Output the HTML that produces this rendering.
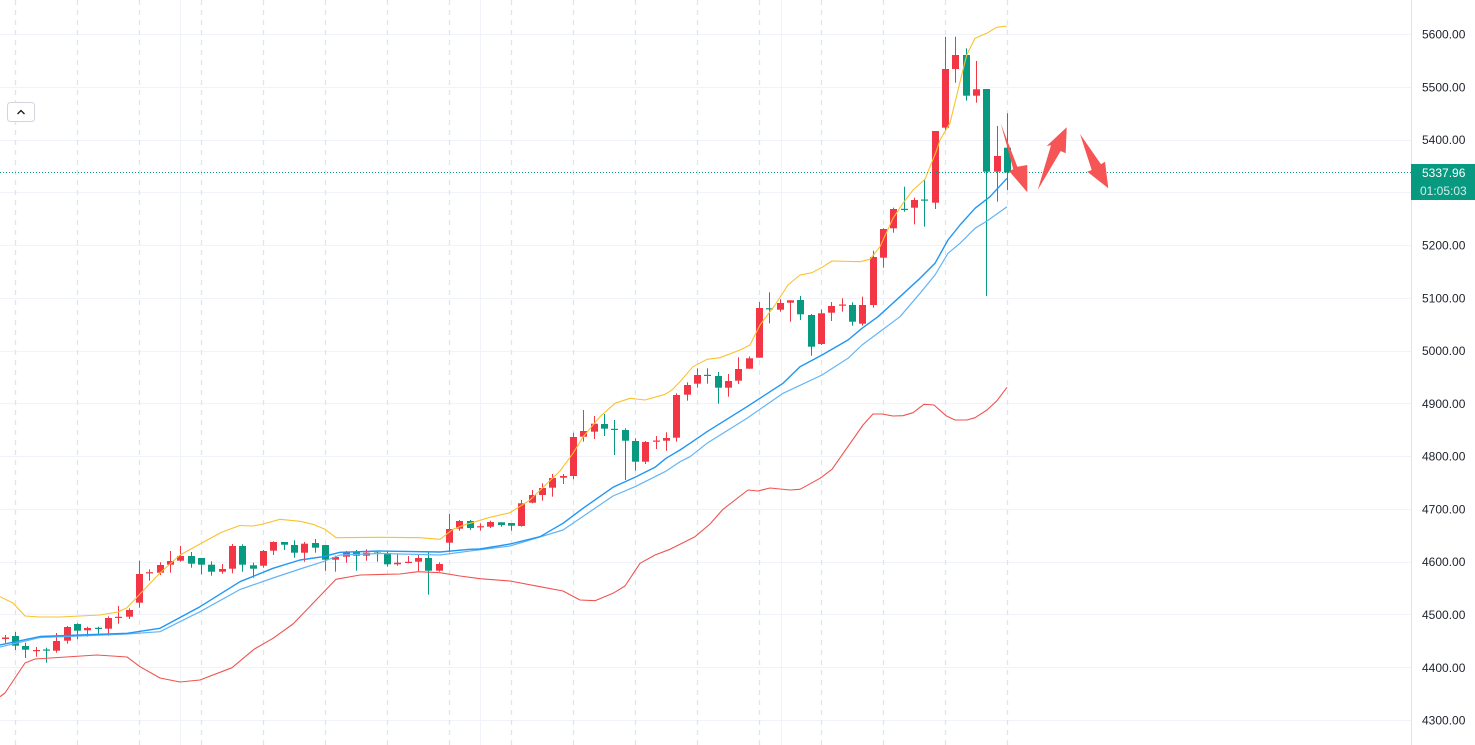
<!DOCTYPE html>
<html><head><meta charset="utf-8"><style>
html,body{margin:0;padding:0;background:#fff;}
svg{display:block;}
text{font-family:"Liberation Sans",sans-serif;font-size:12px;}
</style></head><body>
<svg width="1475" height="745" viewBox="0 0 1475 745" xmlns="http://www.w3.org/2000/svg">
<rect width="1475" height="745" fill="#fff"/>
<g stroke="#f0f3fa" stroke-width="1">
<line x1="0" y1="34.5" x2="1411" y2="34.5"/><line x1="0" y1="87.5" x2="1411" y2="87.5"/><line x1="0" y1="140.5" x2="1411" y2="140.5"/><line x1="0" y1="192.5" x2="1411" y2="192.5"/><line x1="0" y1="245.5" x2="1411" y2="245.5"/><line x1="0" y1="298.5" x2="1411" y2="298.5"/><line x1="0" y1="351.5" x2="1411" y2="351.5"/><line x1="0" y1="403.5" x2="1411" y2="403.5"/><line x1="0" y1="456.5" x2="1411" y2="456.5"/><line x1="0" y1="509.5" x2="1411" y2="509.5"/><line x1="0" y1="562.5" x2="1411" y2="562.5"/><line x1="0" y1="614.5" x2="1411" y2="614.5"/><line x1="0" y1="667.5" x2="1411" y2="667.5"/><line x1="0" y1="720.5" x2="1411" y2="720.5"/>
<line x1="180.5" y1="0" x2="180.5" y2="745"/><line x1="480.5" y1="0" x2="480.5" y2="745"/><line x1="781.5" y1="0" x2="781.5" y2="745"/>
</g>
<g stroke="#e2e4ea" stroke-width="1.3" stroke-dasharray="5 5">
<line x1="15.5" y1="0" x2="15.5" y2="745"/><line x1="77.5" y1="0" x2="77.5" y2="745"/><line x1="139.5" y1="0" x2="139.5" y2="745"/><line x1="201.5" y1="0" x2="201.5" y2="745"/><line x1="263.5" y1="0" x2="263.5" y2="745"/><line x1="325.5" y1="0" x2="325.5" y2="745"/><line x1="387.5" y1="0" x2="387.5" y2="745"/><line x1="449.5" y1="0" x2="449.5" y2="745"/><line x1="511.5" y1="0" x2="511.5" y2="745"/><line x1="573.5" y1="0" x2="573.5" y2="745"/><line x1="635.5" y1="0" x2="635.5" y2="745"/><line x1="697.5" y1="0" x2="697.5" y2="745"/><line x1="759.5" y1="0" x2="759.5" y2="745"/><line x1="821.5" y1="0" x2="821.5" y2="745"/><line x1="883.5" y1="0" x2="883.5" y2="745"/><line x1="945.5" y1="0" x2="945.5" y2="745"/><line x1="1007.5" y1="0" x2="1007.5" y2="745"/>
</g>
<g fill="#f23645">
<rect x="5" y="635" width="1" height="8"/><rect x="2" y="637.5" width="7" height="1.5"/>
<rect x="36" y="647" width="1" height="9.7"/><rect x="33" y="650" width="7" height="1.2"/>
<rect x="56" y="633" width="1" height="19.7"/><rect x="53" y="641" width="7" height="9.7"/>
<rect x="67" y="626" width="1" height="17.7"/><rect x="64" y="627" width="7" height="13.7"/>
<rect x="87" y="626.7" width="1" height="10"/><rect x="84" y="628" width="7" height="2.3"/>
<rect x="108" y="616.3" width="1" height="19.4"/><rect x="105" y="618" width="7" height="10.7"/>
<rect x="118" y="606" width="1" height="17.7"/><rect x="115" y="616.8" width="7" height="1.2"/>
<rect x="129" y="608.3" width="1" height="10.7"/><rect x="126" y="610" width="7" height="6.7"/>
<rect x="139" y="560.7" width="1" height="47"/><rect x="136" y="574" width="7" height="28.7"/>
<rect x="149" y="569.3" width="1" height="11.4"/><rect x="146" y="572.2" width="7" height="1.2"/>
<rect x="160" y="562.3" width="1" height="12.7"/><rect x="157" y="565" width="7" height="7.7"/>
<rect x="170" y="551" width="1" height="21.7"/><rect x="167" y="561" width="7" height="3.7"/>
<rect x="180" y="546" width="1" height="15.7"/><rect x="177" y="556" width="7" height="4.7"/>
<rect x="222" y="564" width="1" height="9.7"/><rect x="219" y="569" width="7" height="2.7"/>
<rect x="232" y="544" width="1" height="29.3"/><rect x="229" y="546" width="7" height="22.7"/>
<rect x="263" y="550" width="1" height="17.7"/><rect x="260" y="551" width="7" height="14.7"/>
<rect x="273" y="541.3" width="1" height="13.7"/><rect x="270" y="542" width="7" height="8.7"/>
<rect x="304" y="542" width="1" height="19.7"/><rect x="301" y="543.7" width="7" height="9"/>
<rect x="335" y="555.7" width="1" height="16"/><rect x="332" y="557" width="7" height="2.7"/>
<rect x="346" y="551" width="1" height="11.7"/><rect x="343" y="552" width="7" height="4.7"/>
<rect x="366" y="549.3" width="1" height="11.4"/><rect x="363" y="552.7" width="7" height="3"/>
<rect x="397" y="554" width="1" height="11.7"/><rect x="394" y="562.7" width="7" height="1.6"/>
<rect x="408" y="556" width="1" height="7.3"/><rect x="405" y="561.8" width="7" height="1.2"/>
<rect x="418" y="554" width="1" height="17"/><rect x="415" y="558" width="7" height="3.7"/>
<rect x="439" y="562.3" width="1" height="9.4"/><rect x="436" y="564" width="7" height="6.7"/>
<rect x="449" y="514" width="1" height="38.3"/><rect x="446" y="529" width="7" height="13.7"/>
<rect x="459" y="520" width="1" height="10.7"/><rect x="456" y="521" width="7" height="7.7"/>
<rect x="480" y="523.3" width="1" height="7.4"/><rect x="477" y="526.2" width="7" height="1.2"/>
<rect x="490" y="520.7" width="1" height="7.3"/><rect x="487" y="522" width="7" height="4.7"/>
<rect x="521" y="500" width="1" height="26.7"/><rect x="518" y="503.3" width="7" height="22.7"/>
<rect x="532" y="490" width="1" height="13.3"/><rect x="529" y="495" width="7" height="7.7"/>
<rect x="542" y="483.3" width="1" height="17.4"/><rect x="539" y="488" width="7" height="7"/>
<rect x="552" y="474" width="1" height="22.7"/><rect x="549" y="478" width="7" height="9.7"/>
<rect x="563" y="474" width="1" height="10"/><rect x="560" y="476" width="7" height="1.7"/>
<rect x="573" y="432.7" width="1" height="46.6"/><rect x="570" y="437" width="7" height="39"/>
<rect x="583" y="410" width="1" height="31.7"/><rect x="580" y="431" width="7" height="5.7"/>
<rect x="594" y="416" width="1" height="23"/><rect x="591" y="423.7" width="7" height="8"/>
<rect x="645" y="441" width="1" height="23"/><rect x="642" y="442" width="7" height="19.7"/>
<rect x="656" y="436" width="1" height="13"/><rect x="653" y="440.5" width="7" height="1.2"/>
<rect x="666" y="432.3" width="1" height="18.4"/><rect x="663" y="438" width="7" height="2.7"/>
<rect x="676" y="393.3" width="1" height="48.4"/><rect x="673" y="395" width="7" height="42.7"/>
<rect x="687" y="382.3" width="1" height="18.4"/><rect x="684" y="385" width="7" height="9.7"/>
<rect x="697" y="368.3" width="1" height="19.4"/><rect x="694" y="375" width="7" height="8.7"/>
<rect x="728" y="374" width="1" height="22.7"/><rect x="725" y="381" width="7" height="6.7"/>
<rect x="738" y="357.3" width="1" height="26.7"/><rect x="735" y="369" width="7" height="11.7"/>
<rect x="749" y="356.3" width="1" height="12.4"/><rect x="746" y="358.3" width="7" height="10.4"/>
<rect x="759" y="302" width="1" height="55.7"/><rect x="756" y="308" width="7" height="49.7"/>
<rect x="780" y="299.3" width="1" height="12.4"/><rect x="777" y="303" width="7" height="6.7"/>
<rect x="790" y="300.3" width="1" height="21.4"/><rect x="787" y="300.3" width="7" height="2.4"/>
<rect x="821" y="309.3" width="1" height="35.7"/><rect x="818" y="313.3" width="7" height="30.7"/>
<rect x="831" y="302" width="1" height="19"/><rect x="828" y="306" width="7" height="6.7"/>
<rect x="842" y="298.3" width="1" height="13.4"/><rect x="839" y="304.5" width="7" height="1.2"/>
<rect x="862" y="296.7" width="1" height="29"/><rect x="859" y="305" width="7" height="18.7"/>
<rect x="873" y="250.7" width="1" height="57"/><rect x="870" y="257" width="7" height="48"/>
<rect x="883" y="228.3" width="1" height="39.4"/><rect x="880" y="229" width="7" height="28.7"/>
<rect x="893" y="207.7" width="1" height="25"/><rect x="890" y="209" width="7" height="19.3"/>
<rect x="914" y="197.7" width="1" height="26.6"/><rect x="911" y="200" width="7" height="7.7"/>
<rect x="935" y="131" width="1" height="78"/><rect x="932" y="131" width="7" height="71.7"/>
<rect x="945" y="36.7" width="1" height="94"/><rect x="942" y="69" width="7" height="58.7"/>
<rect x="955" y="36.7" width="1" height="46"/><rect x="952" y="55" width="7" height="14"/>
<rect x="976" y="61" width="1" height="41.7"/><rect x="973" y="89.3" width="7" height="6.4"/>
<rect x="997" y="126" width="1" height="75.7"/><rect x="994" y="156" width="7" height="15.7"/>
</g>
<g fill="#089981">
<rect x="15" y="632" width="1" height="18"/><rect x="12" y="636" width="7" height="9.7"/>
<rect x="25" y="642.7" width="1" height="15.3"/><rect x="22" y="646" width="7" height="3.7"/>
<rect x="46" y="647.7" width="1" height="15"/><rect x="43" y="649.5" width="7" height="1.2"/>
<rect x="77" y="623.3" width="1" height="16"/><rect x="74" y="624" width="7" height="6.7"/>
<rect x="98" y="626.7" width="1" height="7"/><rect x="95" y="627.8" width="7" height="1.2"/>
<rect x="191" y="552" width="1" height="15.7"/><rect x="188" y="556" width="7" height="7.7"/>
<rect x="201" y="558" width="1" height="16.3"/><rect x="198" y="558" width="7" height="6.7"/>
<rect x="211" y="561.3" width="1" height="14.4"/><rect x="208" y="564.7" width="7" height="7"/>
<rect x="242" y="544.3" width="1" height="27.4"/><rect x="239" y="546" width="7" height="18.7"/>
<rect x="253" y="562.7" width="1" height="15"/><rect x="250" y="565.3" width="7" height="3.4"/>
<rect x="284" y="542" width="1" height="8"/><rect x="281" y="542" width="7" height="2.7"/>
<rect x="294" y="540.3" width="1" height="17.4"/><rect x="291" y="545" width="7" height="7.7"/>
<rect x="315" y="539" width="1" height="13.7"/><rect x="312" y="543" width="7" height="4.7"/>
<rect x="325" y="545" width="1" height="25.7"/><rect x="322" y="545" width="7" height="14.7"/>
<rect x="356" y="550" width="1" height="20.7"/><rect x="353" y="552" width="7" height="3.7"/>
<rect x="377" y="551" width="1" height="10.7"/><rect x="374" y="552.5" width="7" height="1.2"/>
<rect x="387" y="551.7" width="1" height="15"/><rect x="384" y="553" width="7" height="11.3"/>
<rect x="428" y="551.3" width="1" height="43.4"/><rect x="425" y="558" width="7" height="12.7"/>
<rect x="470" y="520" width="1" height="10"/><rect x="467" y="521" width="7" height="7"/>
<rect x="501" y="522.3" width="1" height="4.4"/><rect x="498" y="522.3" width="7" height="2.7"/>
<rect x="511" y="523" width="1" height="7.7"/><rect x="508" y="523" width="7" height="2.7"/>
<rect x="604" y="414" width="1" height="22"/><rect x="601" y="424" width="7" height="4.7"/>
<rect x="614" y="420" width="1" height="35"/><rect x="611" y="428.8" width="7" height="1.2"/>
<rect x="625" y="428.3" width="1" height="51.7"/><rect x="622" y="430" width="7" height="10.7"/>
<rect x="635" y="438.3" width="1" height="32.4"/><rect x="632" y="441" width="7" height="20.7"/>
<rect x="707" y="368.3" width="1" height="15.4"/><rect x="704" y="374.8" width="7" height="1.2"/>
<rect x="718" y="372" width="1" height="31.7"/><rect x="715" y="376" width="7" height="11.7"/>
<rect x="769" y="292.3" width="1" height="31"/><rect x="766" y="308.2" width="7" height="1.2"/>
<rect x="800" y="296" width="1" height="24"/><rect x="797" y="300" width="7" height="14.3"/>
<rect x="811" y="314" width="1" height="41.7"/><rect x="808" y="315" width="7" height="31.7"/>
<rect x="852" y="302.3" width="1" height="23.4"/><rect x="849" y="305" width="7" height="16.7"/>
<rect x="904" y="186.7" width="1" height="25"/><rect x="901" y="208.8" width="7" height="1.2"/>
<rect x="924" y="179" width="1" height="47.7"/><rect x="921" y="199.5" width="7" height="1.2"/>
<rect x="966" y="48.3" width="1" height="52.4"/><rect x="963" y="55" width="7" height="40.7"/>
<rect x="986" y="89" width="1" height="207"/><rect x="983" y="89" width="7" height="82.7"/>
<rect x="1007" y="113.3" width="1" height="76.7"/><rect x="1004" y="147.7" width="7" height="24.8"/>
</g>
<g fill="none" stroke-linejoin="round">
<polyline stroke="#f9c22b" stroke-width="1.1" points="0,596.7 13,603 25,616 40,617 60,617 100,615 118,612 127,607.7 139,595 160,573 180,555 200,544 222,532 240,525.5 253,526 263,524 280,519.3 300,521.3 313,524.3 325,529.3 336,537.7 380,537.3 420,537.7 440,539.3 453,529.3 467,524 470,523.3 490,517.3 510,512.7 530,500 560,471 573,453.3 583,437 600,416.7 615,403.3 630,398.3 645,400 665,394.3 672,390 680,381.7 693,366.7 707,359.3 720,357.7 740,350 750,345 760,325 775,305 788,285 800,275 812,272.7 823,266.7 832,261 860,261.7 870,259.3 880,246.7 893,218.3 903,203.3 913,190 925,179.3 930,166.7 936,152 940,140 950,123 960,82 966.7,55 975,38.3 986.7,33.3 996.7,27.3 1006.7,26"/>
<polyline stroke="#ef5350" stroke-width="1.1" points="0,696.7 5,693 25,663 35,659 97,655 127,657 140,666.7 160,678 180,682 200,680 232,667.7 254,649.3 273,638.3 293,624 313,603.3 336,579.3 360,575 400,574 418,571.7 440,572.7 460,576 480,578.7 510,581 540,586.7 563,591 580,600 595,600.7 613,593.3 625,586 640,563.3 655,555 670,549.3 695,536.7 710,524 723,509.3 748,490 758,491 770,488 790,490 800,489.3 820,478.3 832,469.3 853,439.3 863,425 873,414 882,414 893,416 903,415.7 913,412.7 924,404.3 934,405 946,415.7 955,420 967,420 975,417.7 987,410 997,400.7 1007,387.3"/>
<polyline stroke="#64b5f6" stroke-width="1.2" points="0,647 40,637.5 80,636 127,634 160,631.7 200,611.7 240,589.5 273,578 300,569 323,561.7 340,555 380,553.5 440,555 470,551 510,546 563,530 613,496 635,486.7 665,471.7 680,461.7 690,456.7 707,443.3 747,418.3 783,393.3 822,375 848,358.3 862,345 900,316.7 920,293.3 935,275 948,253.3 960,243.3 975,228.3 987,221 1007,206.7"/>
<polyline stroke="#2196f3" stroke-width="1.4" points="0,645 40,636.5 80,635 127,633.3 160,628.3 200,606.7 240,581.7 273,568.3 300,560 323,556.7 340,552.3 380,551 440,552 470,549.3 480,549 510,544 540,536.7 563,523.3 583,508.3 613,487.3 635,477.3 655,467.3 666,458.3 680,450 690,443.3 707,431.7 747,406.7 783,383.3 800,366.7 822,355 848,340 862,328.3 878,316.7 900,296.7 920,278.3 935,263.3 948,240 960,225 975,208.3 990,196.7 1007,178.3"/>
</g>
<line x1="0" y1="172.5" x2="1411" y2="172.5" stroke="#089981" stroke-width="1" stroke-dasharray="1 2"/>
<g fill="#f55555">
<polygon points="1000.7,123.3 1017.3,166.7 1027.3,165 1027.3,192.3 1009,171 1013.3,169.3"/>
<polygon points="1037.7,190 1051,145.3 1046.7,146 1066.7,127.3 1065.7,153.3 1060.7,151"/>
<polygon points="1080,134 1101,164.3 1105,161.7 1108.3,188.3 1087.3,171.7 1091.7,170"/>
</g>
<rect x="7.5" y="102.5" width="27" height="19" rx="3" fill="#fff" stroke="#d1d4dc"/>
<polyline points="17.5,114 21,110.5 24.5,114" fill="none" stroke="#131722" stroke-width="1.3"/>
<rect x="1411" y="0" width="64" height="745" fill="#fff"/>
<line x1="1411.5" y1="0" x2="1411.5" y2="745" stroke="#e0e3eb"/>
<g fill="#1e222d">
<text x="1422" y="38.5">5600.00</text>
<text x="1422" y="91.3">5500.00</text>
<text x="1422" y="144">5400.00</text>
<text x="1422" y="249.6">5200.00</text>
<text x="1422" y="302.4">5100.00</text>
<text x="1422" y="355.2">5000.00</text>
<text x="1422" y="407.9">4900.00</text>
<text x="1422" y="460.7">4800.00</text>
<text x="1422" y="513.5">4700.00</text>
<text x="1422" y="566.2">4600.00</text>
<text x="1422" y="619">4500.00</text>
<text x="1422" y="671.8">4400.00</text>
<text x="1422" y="724.5">4300.00</text>
</g>
<rect x="1411" y="164" width="64" height="36" fill="#089981"/>
<text x="1422" y="177" fill="#ffffff">5337.96</text>
<text x="1420" y="195" fill="#ffffff" fill-opacity="0.82">01:05:03</text>
</svg>
</body></html>
